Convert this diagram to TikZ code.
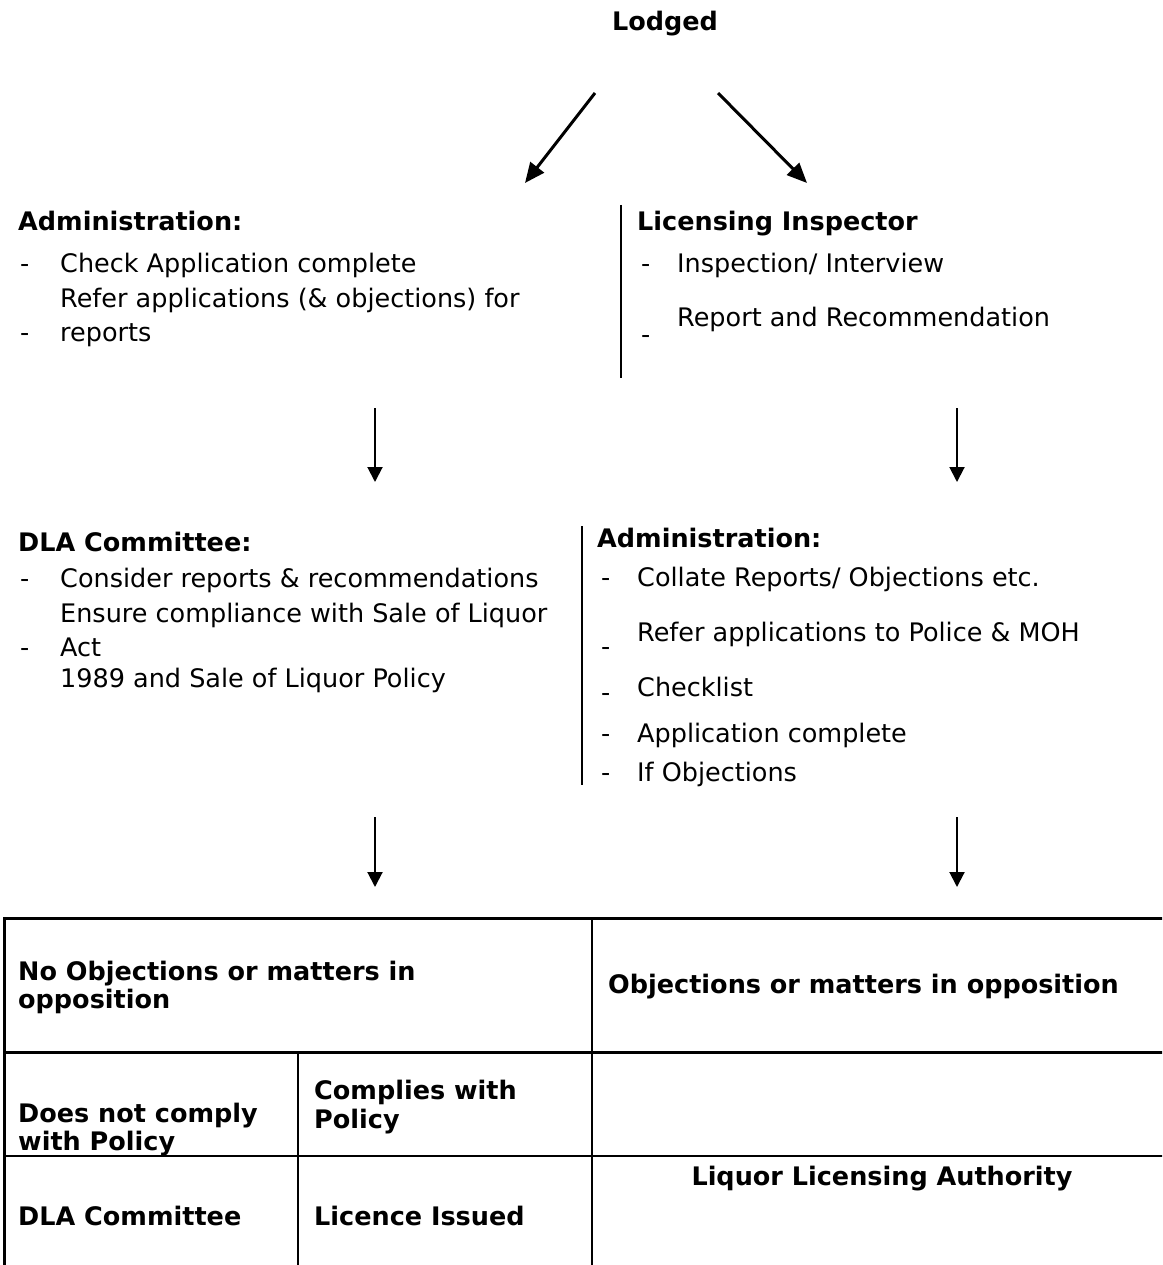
\documentclass[tikz,border=0pt]{standalone}
\usepackage{fontspec}
\setmainfont{DejaVu Sans}
\usetikzlibrary{arrows.meta}
\begin{document}
\begin{tikzpicture}[x=1pt,y=-1pt,
  txt/.style={anchor=base west,inner sep=0pt,font=\fontsize{25.5}{30}\selectfont},
  btxt/.style={txt,font=\fontsize{25.5}{30}\selectfont\bfseries},
  diagarrow/.style={line width=3pt,-{Triangle[length=20pt,width=17pt]}},
  downarrow/.style={line width=2pt,-{Triangle[length=15pt,width=15pt]}},
  sepline/.style={line width=2pt},
  thickrule/.style={line width=3pt},
  thinrule/.style={line width=1.5pt}]
\useasboundingbox (0,0) rectangle (1162,1265);
\clip (0,0) rectangle (1162,1265);

% top
\node[btxt,anchor=base] (lodged) at (665,31) {Lodged};
\coordinate (dl1) at (595,93); \coordinate (dl2) at (525,183);
\coordinate (dr1) at (718,93); \coordinate (dr2) at (807,183);
\draw[diagarrow] (dl1) -- (dl2);
\draw[diagarrow] (dr1) -- (dr2);

% row 1 left
\node[btxt] (adm1) at (18,231) {Administration:};
\node[txt] (adm1d1) at (20,272) {-};
\node[txt] (adm1t1) at (60,272) {Check Application complete};
\node[txt] (adm1t2) at (60,307) {Refer applications (\& objections) for};
\node[txt] (adm1d2) at (20,341) {-};
\node[txt] (adm1t3) at (60,341) {reports};

% row 1 right
\coordinate (v1a) at (621,205); \coordinate (v1b) at (621,378);
\draw[sepline] (v1a) -- (v1b);
\node[btxt] (lic) at (637,231) {Licensing Inspector};
\node[txt] (licd1) at (641,272) {-};
\node[txt] (lict1) at (677,272) {Inspection/ Interview};
\node[txt] (lict2) at (677,326) {Report and Recommendation};
\node[txt] (licd2) at (641,343) {-};

% arrows row 1 -> row 2
\coordinate (a1s) at (375,408); \coordinate (a1e) at (375,482);
\coordinate (a2s) at (957,408); \coordinate (a2e) at (957,482);
\draw[downarrow] (a1s) -- (a1e);
\draw[downarrow] (a2s) -- (a2e);

% row 2 left
\node[btxt] (dla) at (18,551) {DLA Committee:};
\node[txt] (dlad1) at (20,587) {-};
\node[txt] (dlat1) at (60,587) {Consider reports \& recommendations};
\node[txt] (dlat2) at (60,622) {Ensure compliance with Sale of Liquor};
\node[txt] (dlad2) at (20,656) {-};
\node[txt] (dlat3) at (60,656) {Act};
\node[txt] (dlat4) at (60,687) {1989 and Sale of Liquor Policy};

% row 2 right
\coordinate (v2a) at (582,526); \coordinate (v2b) at (582,785);
\draw[sepline] (v2a) -- (v2b);
\node[btxt] (adm2) at (597,547) {Administration:};
\node[txt] (adm2d1) at (601,586) {-};
\node[txt] (adm2t1) at (637,586) {Collate Reports/ Objections etc.};
\node[txt] (adm2t2) at (637,641) {Refer applications to Police \& MOH};
\node[txt] (adm2d2) at (601,655) {-};
\node[txt] (adm2t3) at (637,696) {Checklist};
\node[txt] (adm2d3) at (601,701) {-};
\node[txt] (adm2d4) at (601,742) {-};
\node[txt] (adm2t4) at (637,742) {Application complete};
\node[txt] (adm2d5) at (601,781) {-};
\node[txt] (adm2t5) at (637,781) {If Objections};

% arrows row 2 -> table
\coordinate (a3s) at (375,817); \coordinate (a3e) at (375,887);
\coordinate (a4s) at (957,817); \coordinate (a4e) at (957,887);
\draw[downarrow] (a3s) -- (a3e);
\draw[downarrow] (a4s) -- (a4e);

% table
\draw[thickrule] (4,1280) -- (4,918) -- (1175,918);
\draw[thickrule] (4,1052) -- (1175,1052);
\draw[line width=2.5pt] (4,1156) -- (1175,1156);
\draw[thinrule] (592,918) -- (592,1280);
\draw[thinrule] (298,1052) -- (298,1280);

\node[btxt] (noobj1) at (18,980) {No Objections or matters in};
\node[btxt] (noobj2) at (18,1008) {opposition};
\node[btxt] (obj) at (608,993) {Objections or matters in opposition};
\node[btxt] (comp1) at (314,1099) {Complies with};
\node[btxt] (comp2) at (314,1128) {Policy};
\node[btxt] (ncomp1) at (18,1122) {Does not comply};
\node[btxt] (ncomp2) at (18,1150) {with Policy};
\node[btxt] (dlac) at (18,1225) {DLA Committee};
\node[btxt] (lici) at (314,1225) {Licence Issued};
\node[btxt,anchor=base] (lla) at (882,1185) {Liquor Licensing Authority};
\end{tikzpicture}
\end{document}
